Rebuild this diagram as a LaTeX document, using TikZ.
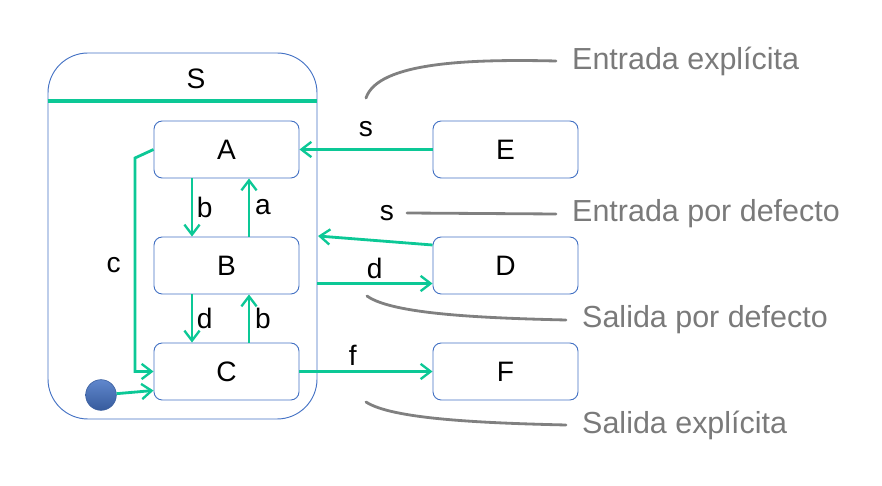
\documentclass[tikz,border=0pt]{standalone}
\usepackage{fontspec}
\setmainfont{Liberation Sans}
\usetikzlibrary{arrows.meta,calc}
\definecolor{trgreen}{RGB}{12,200,150}
\definecolor{stblue}{RGB}{68,114,196}
\definecolor{notegray}{RGB}{128,128,128}
\begin{document}
\begin{tikzpicture}[
    x=0.03cm, y=-0.03cm,
    state/.style={
        draw=stblue,
        line width=0.8pt,
        fill=white,
        rounded corners=7pt,
        minimum width=4.35cm,
        minimum height=1.71cm,
        font=\fontsize{24}{28}\selectfont
    },
    lab/.style={font=\fontsize{24}{28}\selectfont, inner sep=0pt},
    arr/.style={-{Straight Barb[length=8.5pt,width=13pt,line width=2pt]}, line width=2.4pt, draw=trgreen},
    note/.style={line width=2.4pt, draw=notegray, line cap=round},
    notetext/.style={anchor=west, inner xsep=0.48cm, inner ysep=0pt,
        text=notegray!95!black, font=\fontsize{26}{30}\selectfont}
]
    \useasboundingbox (0,0) rectangle (882,486);

    % superestado S
    \node[draw=stblue, line width=0.8pt, rounded corners=1.2cm,
        minimum width=8.07cm, minimum height=10.98cm] (S) at (182.5,236) {};
    \draw[line width=3.2pt, draw=trgreen] (S.west |- 0,101) -- (S.east |- 0,101);
    \node[lab] (Slab) at (196,79) {S};

    \node[state] (A) at (226.5,149.5) {A};
    \node[state] (B) at (226.5,265.5) {B};
    \node[state] (C) at (226.5,371.5) {C};

    \node[state] (E) at (505.5,149.5) {E};
    \node[state] (D) at (505.5,265.5) {D};
    \node[state] (F) at (505.5,371.5) {F};

    \node[circle, draw=stblue!80!black, line width=0.5pt, minimum size=0.92cm, inner sep=0pt,
        top color=stblue!85!white, bottom color=stblue!80!black] (ini) at (101,395) {};

    % transiciones internas
    \draw[arr] ($(A.south)+(-34.5,0)$) -- node[lab, right=3pt] (lb1) {b} ($(B.north)+(-34.5,0)$);
    \draw[arr] ($(B.north)+(22.5,0)$) -- node[lab, right=4pt] (la) {a} ($(A.south)+(22.5,0)$);
    \draw[arr] ($(B.south)+(-34.5,0)$) -- node[lab, right=3pt] (ld1) {d} ($(C.north)+(-34.5,0)$);
    \draw[arr] ($(C.north)+(22.5,0)$) -- node[lab, right=4pt] (lb2) {b} ($(B.south)+(22.5,0)$);
    \draw[arr] (A.west) -- (135,158) -- node[lab, left=11pt] (lc) {c} (135,371.5) -- (C.west);
    \draw[arr] (ini) -- ($(C.west)+(0,19)$);

    % entradas y salidas
    \coordinate (sin) at (318,236);
    \coordinate (sout) at (317,283.5);
    \draw[arr] (E.west) -- node[lab, above=10pt] (ls1) {s} (A.east);
    \draw[arr] ($(D.west)+(0,-20.5)$) -- (sin);
    \node[lab] (ls2) at (387,213) {s};
    \draw[arr] (sout) -- node[lab, above=3pt] (ld2) {d} (sout -| D.west);
    \draw[arr] (C.east) -- node[lab, above=4pt, pos=0.4] (lf) {f} (F.west);

    % notas
    \node[notetext] (n1) at (556,61) {Entrada explícita};
    \node[notetext] (n2) at (556,214) {Entrada por defecto};
    \node[notetext] (n3) at (566,320) {Salida por defecto};
    \node[notetext] (n4) at (566,425) {Salida explícita};
    \coordinate (p1) at (366,98);
    \coordinate (p2) at (407,213);
    \coordinate (p3) at (367,296);
    \coordinate (p4) at (366,402);
    \draw[note] (p1) .. controls (378,62) and (470,59) .. (n1.west);
    \draw[note] (p2) -- (n2.west);
    \draw[note] (p3) .. controls (392,314) and (480,318) .. (n3.west);
    \draw[note] (p4) .. controls (392,419) and (480,423) .. (n4.west);
\end{tikzpicture}
\end{document}
